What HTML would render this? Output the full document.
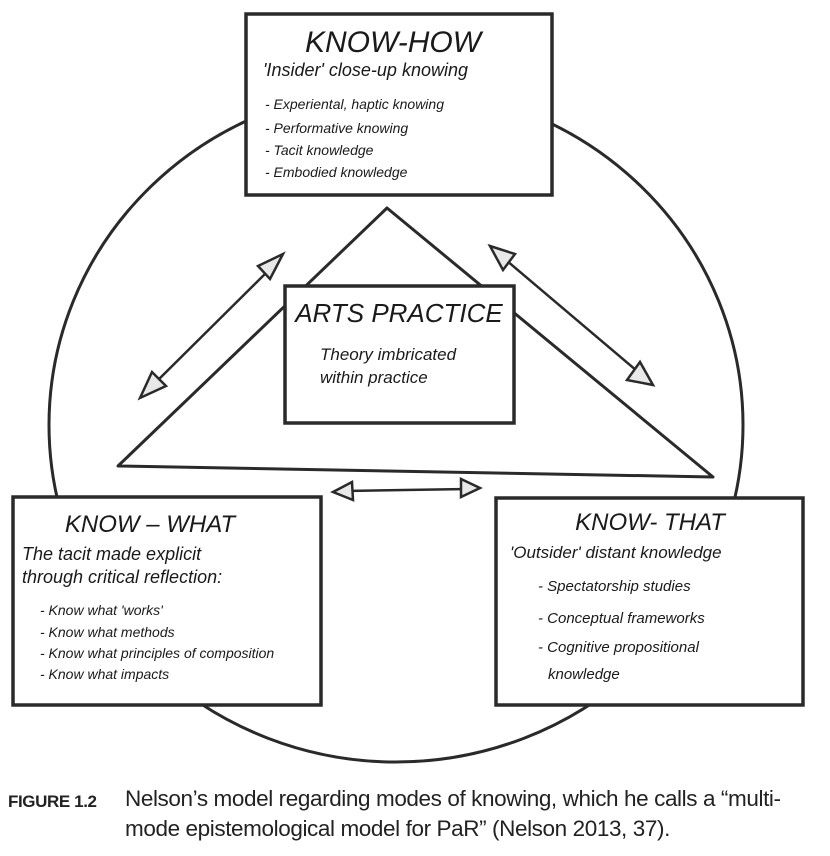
<!DOCTYPE html>
<html><head><meta charset="utf-8"><style>
html,body{margin:0;padding:0;background:#fff;}
body{width:830px;height:856px;position:relative;overflow:hidden;}
svg{position:absolute;left:0;top:0;}
.h{font-family:"Liberation Sans",sans-serif;fill:#1a1a1a;}
.cap{position:absolute;font-family:"Liberation Sans",sans-serif;font-size:22.5px;color:#222;letter-spacing:-0.4px;white-space:nowrap;}
</style></head><body>
<svg width="830" height="856" viewBox="0 0 830 856">
<g fill="none" stroke="#2a2a2a" stroke-width="3" stroke-linejoin="round">
<ellipse cx="396" cy="425" rx="347" ry="337"/>
<polygon points="387,208 713,477 118,466" fill="none"/>
</g>
<g fill="#fff" stroke="#2a2a2a" stroke-width="3.5">
<rect x="246" y="14" width="306" height="181"/>
<rect x="285" y="286" width="229" height="137"/>
<rect x="13" y="497" width="308" height="208"/>
<rect x="496" y="498" width="307" height="207"/>
</g>
<g stroke="#2a2a2a" stroke-width="2.5" fill="#e8e8e8">
<line x1="272" y1="267" x2="150" y2="388"/>
<polygon points="283,254 258,266 270,279"/>
<polygon points="140,398 152,372 166,386"/>
<line x1="500" y1="255" x2="643" y2="376"/>
<polygon points="490,246 515,254 503,270"/>
<polygon points="653,385 627,380 640,362"/>
<line x1="345" y1="491" x2="468" y2="489"/>
<polygon points="333,492 352,482 353,500"/>
<polygon points="480,488 461,479 461,497"/>
</g>
<g class="h" font-style="italic">
<text x="393" y="52" font-size="30" text-anchor="middle">KNOW-HOW</text>
<text x="263" y="76" font-size="18">'Insider' close-up knowing</text>
<text x="265" y="109" font-size="14">- Experiental, haptic knowing</text>
<text x="265" y="133" font-size="14">- Performative knowing</text>
<text x="265" y="155" font-size="14">- Tacit knowledge</text>
<text x="265" y="177" font-size="14">- Embodied knowledge</text>
<text x="399" y="322" font-size="26" text-anchor="middle">ARTS PRACTICE</text>
<text x="320" y="360" font-size="17">Theory imbricated</text>
<text x="320" y="383" font-size="17">within practice</text>
<text x="150" y="532" font-size="24" text-anchor="middle">KNOW – WHAT</text>
<text x="22" y="560" font-size="18">The tacit made explicit</text>
<text x="22" y="583" font-size="18">through critical reflection:</text>
<text x="40" y="615" font-size="14">- Know what 'works'</text>
<text x="40" y="637" font-size="14">- Know what methods</text>
<text x="40" y="658" font-size="14">- Know what principles of composition</text>
<text x="40" y="679" font-size="14">- Know what impacts</text>
<text x="650" y="530" font-size="24" text-anchor="middle">KNOW- THAT</text>
<text x="510" y="558" font-size="17">'Outsider' distant knowledge</text>
<text x="538" y="591" font-size="15">- Spectatorship studies</text>
<text x="538" y="623" font-size="15">- Conceptual frameworks</text>
<text x="538" y="652" font-size="15">- Cognitive propositional</text>
<text x="548" y="679" font-size="15">knowledge</text>
</g>
</svg>
<div class="cap" style="left:8px;top:792px;font-size:17px;font-weight:bold;">FIGURE 1.2</div>
<div class="cap" style="left:125px;top:786px;">Nelson’s model regarding modes of knowing, which he calls a “multi-</div>
<div class="cap" style="left:125px;top:816px;">mode epistemological model for PaR” (Nelson 2013, 37).</div>
</body></html>
